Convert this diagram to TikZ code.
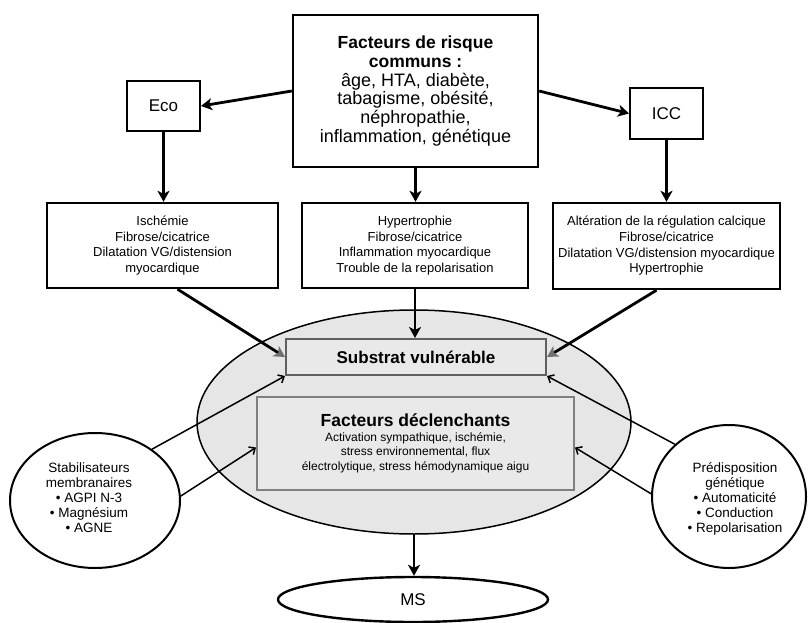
\documentclass[tikz,border=0pt]{standalone}
\usepackage{fontspec}
\setmainfont{Liberation Sans}
\usetikzlibrary{arrows.meta,shapes.geometric}
\definecolor{ellfill}{HTML}{E6E6E6}
\definecolor{boxfill}{HTML}{E9E9E9}
\definecolor{subedge}{HTML}{606060}
\definecolor{fdedge}{HTML}{808080}
\definecolor{tipgray}{HTML}{707070}
\tikzset{
  bigtxt/.style={font=\fontsize{18}{18.7}\selectfont},
  boxtxt/.style={font=\fontsize{13}{15.7}\selectfont},
  blackbox/.style={draw=black, line width=2.4pt, fill=white, inner sep=0pt, align=center},
  smallbox/.style={draw=black, line width=2pt, fill=white, inner sep=0pt, align=center, font=\fontsize{17}{20}\selectfont},
  circbox/.style={ellipse, draw=black, line width=2pt, fill=white, inner sep=0pt, align=center, font=\fontsize{13.5}{15}\selectfont},
  thickarrow/.style={line width=2.8pt, -{Stealth[length=11pt,width=12pt,inset=3pt]}},
  graytip/.style={-{Stealth[length=11pt,width=12pt,inset=3pt,color=tipgray]}},
  thinarrow/.style={line width=1.5pt, -{Straight Barb[length=5pt,width=9pt]}}
}
\begin{document}
\begin{tikzpicture}[x=1pt,y=-1pt]
\useasboundingbox (0,0) rectangle (808,623);

% top row
\node[blackbox, bigtxt, minimum width=245pt, minimum height=152pt] (top) at (415.5,91)
  {\textbf{\fontsize{17.5}{18.7}\selectfont Facteurs de risque}\\
   \textbf{\fontsize{17.5}{18.7}\selectfont communs :}\\
   âge, HTA, diabète,\\tabagisme, obésité,\\néphropathie,\\inflammation, génétique};
\node[smallbox, minimum width=73pt, minimum height=50pt] (eco) at (163.5,106) {Eco};
\node[smallbox, minimum width=73pt, minimum height=51pt] (icc) at (666.5,113.5) {ICC};

% middle row
\node[blackbox, boxtxt, minimum width=231pt, minimum height=85pt] (lbox) at (162.5,245.5)
  {Ischémie\\Fibrose/cicatrice\\Dilatation VG/distension\\myocardique};
\node[blackbox, boxtxt, minimum width=226pt, minimum height=85pt] (mbox) at (415,245.5)
  {Hypertrophie\\Fibrose/cicatrice\\Inflammation myocardique\\Trouble de la repolarisation};
\node[blackbox, boxtxt, minimum width=227pt, minimum height=86pt] (rbox) at (666.5,246)
  {Altération de la régulation calcique\\Fibrose/cicatrice\\Dilatation VG/distension myocardique\\Hypertrophie};

% big ellipse
\node[ellipse, draw=black, line width=1.5pt, fill=ellfill, inner sep=0pt,
      minimum width=434pt, minimum height=224pt] (big) at (414,422) {};
\node[draw=subedge, line width=2pt, fill=boxfill, inner sep=0pt,
      minimum width=260pt, minimum height=36pt, font=\fontsize{17}{20}\selectfont\bfseries] (sub) at (416,357)
  {Substrat vulnérable};
\node[draw=fdedge, line width=2pt, fill=boxfill, inner sep=0pt, align=center,
      minimum width=317pt, minimum height=93pt, font=\fontsize{12}{14.5}\selectfont] (fd) at (415.5,443.5)
  {{\fontsize{17.5}{19}\selectfont\bfseries Facteurs déclenchants}\\
   Activation sympathique, ischémie,\\stress environnemental, flux\\électrolytique, stress hémodynamique aigu};

% side circles
\node[circbox, minimum width=170pt, minimum height=135pt] (lc) at (95,500.5) {};
\node[font=\fontsize{13.5}{15}\selectfont, align=center] (lctxt) at (89,498)
  {Stabilisateurs\\membranaires\\• AGPI N-3\\• Magnésium\\• AGNE};
\node[circbox, minimum width=154pt, minimum height=143pt] (rc) at (729,496.5) {};
\node[font=\fontsize{13.5}{15}\selectfont, align=center] (rctxt) at (735,499)
  {Prédisposition\\génétique\\• Automaticité\\• Conduction\\• Repolarisation};

% MS
\node[ellipse, draw=black, line width=2.4pt, fill=white, inner sep=0pt,
      minimum width=270pt, minimum height=45pt, font=\fontsize{17}{20}\selectfont] (ms) at (413,599.5) {MS};

% connectors
\draw[thickarrow] (top.west) -- (eco.east);
\draw[thickarrow] (top.east) -- (icc.west);
\draw[thickarrow] (eco.south) -- (eco.south |- lbox.north);
\draw[thickarrow] (top.south) -- (top.south |- mbox.north);
\draw[thickarrow] (icc.south) -- (icc.south |- rbox.north);
\draw[thickarrow, graytip] ([xshift=15pt]lbox.south) -- (sub.west);
\draw[thickarrow] (mbox.south) -- (mbox.south |- sub.north);
\draw[thickarrow, graytip] ([xshift=-10pt]rbox.south) -- (sub.east);
\draw[thinarrow] (lc.42) -- (sub.south west);
\draw[thinarrow] (lc.3) -- ([yshift=-4pt]fd.west);
\draw[thinarrow] (rc.136) -- (sub.south east);
\draw[thinarrow] (rc.178) -- ([yshift=-4pt]fd.east);
\draw[thickarrow] (big.south) -- (big.south |- ms.north);
\end{tikzpicture}
\end{document}
